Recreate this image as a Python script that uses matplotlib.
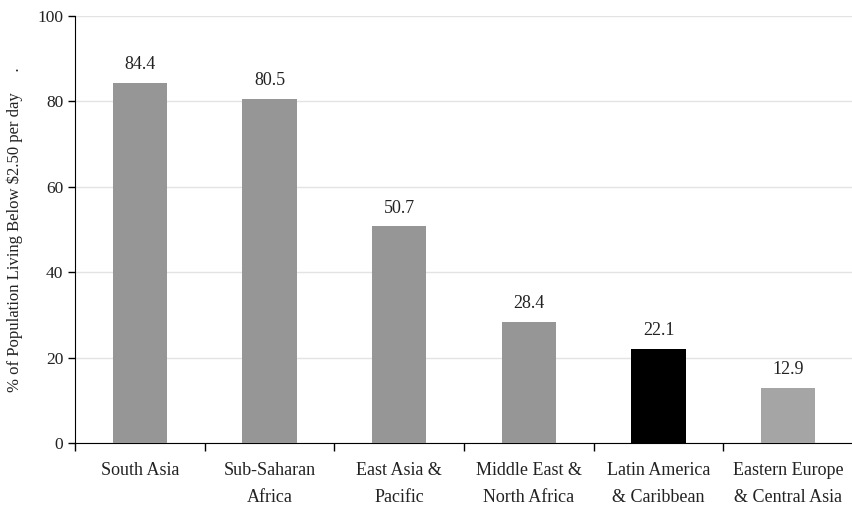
import matplotlib.pyplot as plt
import numpy as np

regions = ["South Asia", "Sub-Saharan\nAfrica", "East Asia &\nPacific",
           "Middle East &\nNorth Africa", "Latin America\n& Caribbean",
           "Eastern Europe\n& Central Asia"]
poverty = [84.4, 80.5, 50.7, 28.4, 22.1, 12.9]
bar_colors = ["#969696", "#969696", "#969696", "#969696", "#000000", "#a5a5a5"]

plt.rcParams['font.family'] = ['Liberation Serif', 'DejaVu Serif']

fig = plt.figure(figsize=(8.53, 5.13), dpi=100)
ax = fig.add_axes([0.088, 0.1365, 0.912, 0.8325])

x = np.arange(len(regions))
bars = ax.bar(x, poverty, width=0.42, color=bar_colors, zorder=3)
for xi, v in zip(x, poverty):
    ax.annotate("{:.1f}".format(v), (xi, v), xytext=(0, 7), textcoords="offset points",
                ha="center", va="bottom", fontsize=13, color="#222222")

ax.set_xlim(-0.5, len(regions) - 0.5)
ax.set_ylim(0, 100)
ax.set_yticks(np.arange(0, 101, 20))
ax.yaxis.grid(True, color="#e3e3e3", linewidth=1, zorder=0)
ax.set_axisbelow(True)

ax.set_xticks(x)
ax.set_xticklabels(regions, fontsize=13, linespacing=1.7, color="#222222")
ax.tick_params(axis="x", which="major", length=0, pad=14)
ax.set_xticks(np.arange(-0.5, len(regions), 1), minor=True)
ax.tick_params(axis="x", which="minor", length=6, width=1, direction="out")
ax.tick_params(axis="y", length=5, width=1, direction="out", labelsize=12.5, labelcolor="#222222")

ax.spines["top"].set_visible(False)
ax.spines["right"].set_visible(False)
ax.set_ylabel("% of Population Living Below $2.50 per day     .",
              fontsize=12, labelpad=10, color="#222222")

fig.savefig("out.png", dpi=100)
